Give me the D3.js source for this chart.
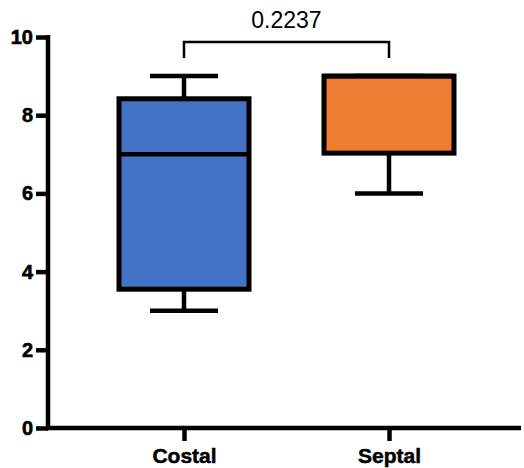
<!DOCTYPE html>
<html>
<head>
<meta charset="utf-8">
<script src="https://cdn.jsdelivr.net/npm/d3@7"></script>
<style>
  body { margin: 0; background: #fff; }
  text { font-family: "Liberation Sans", Arial, sans-serif; }
</style>
</head>
<body>
<script>
// box plot data
var categories = ["Costal", "Septal"];
var mins    = [3, 6];
var q1s     = [3.55, 7.03];
var medians = [7, 9];
var q3s     = [8.42, 9];
var maxs    = [9, 9];
var fills   = ["#4472C4", "#ED7D31"];
var yTicks  = [0, 2, 4, 6, 8, 10];
var pLabel  = "0.2237";

var width = 524,
    height = 468;

var svg = d3.select("body").append("svg")
    .attr("width", width)
    .attr("height", height);

var y = d3.scaleLinear().domain([0, 10]).range([428, 37]);
var x = d3.scalePoint().domain(categories).range([184, 389]);

var boxW = 130, capW = 68;

var boxes = categories.map(function(c, i) {
  return { cat: c, min: mins[i], q1: q1s[i], med: medians[i], q3: q3s[i], max: maxs[i], fill: fills[i] };
});

var g = svg.selectAll(".box").data(boxes).enter().append("g").attr("class", "box");

// whiskers
g.append("line")
    .attr("x1", d => x(d.cat)).attr("x2", d => x(d.cat))
    .attr("y1", d => y(d.max)).attr("y2", d => y(d.min))
    .attr("stroke", "#000").attr("stroke-width", 4.5);

g.append("line")
    .attr("x1", d => x(d.cat) - capW / 2).attr("x2", d => x(d.cat) + capW / 2)
    .attr("y1", d => y(d.max)).attr("y2", d => y(d.max))
    .attr("stroke", "#000").attr("stroke-width", 4.5);

g.append("line")
    .attr("x1", d => x(d.cat) - capW / 2).attr("x2", d => x(d.cat) + capW / 2)
    .attr("y1", d => y(d.min)).attr("y2", d => y(d.min))
    .attr("stroke", "#000").attr("stroke-width", 4.5);

// boxes + medians
g.append("rect")
    .attr("x", d => x(d.cat) - boxW / 2)
    .attr("width", boxW)
    .attr("y", d => y(d.q3))
    .attr("height", d => y(d.q1) - y(d.q3))
    .attr("fill", d => d.fill)
    .attr("stroke", "#000").attr("stroke-width", 5);

g.append("line")
    .attr("x1", d => x(d.cat) - boxW / 2).attr("x2", d => x(d.cat) + boxW / 2)
    .attr("y1", d => y(d.med)).attr("y2", d => y(d.med))
    .attr("stroke", "#000").attr("stroke-width", 4.5);

// y axis
var yAxis = svg.append("g")
    .attr("transform", "translate(48,0)")
    .call(d3.axisLeft(y).tickValues(yTicks).tickSize(12).tickPadding(3).tickSizeOuter(0));
yAxis.select(".domain").remove();
yAxis.selectAll(".tick line").attr("stroke", "#000").attr("stroke-width", 4.5);
yAxis.selectAll(".tick text")
    .attr("fill", "#000")
    .attr("stroke", "#000").attr("stroke-width", 0.6)
    .style("font-size", "20px").style("font-weight", "bold")
    .style("font-family", "'Liberation Sans', Arial, sans-serif");

svg.append("line")
    .attr("x1", 48).attr("x2", 48)
    .attr("y1", y(10) - 2).attr("y2", y(0) + 2)
    .attr("stroke", "#000").attr("stroke-width", 4.5);

// x axis
var xAxis = svg.append("g")
    .attr("transform", "translate(0," + y(0) + ")")
    .call(d3.axisBottom(x).tickSize(13).tickPadding(7));
xAxis.select(".domain").remove();
xAxis.selectAll(".tick line").attr("stroke", "#000").attr("stroke-width", 4.5);
xAxis.selectAll(".tick text")
    .attr("fill", "#000")
    .attr("stroke", "#000").attr("stroke-width", 0.5)
    .style("font-size", "21px").style("font-weight", "bold")
    .style("font-family", "'Liberation Sans', Arial, sans-serif");

svg.append("line")
    .attr("x1", 46).attr("x2", 521)
    .attr("y1", y(0)).attr("y2", y(0))
    .attr("stroke", "#000").attr("stroke-width", 4.5);

// significance bracket
var by = 42;
svg.append("path")
    .attr("d", "M" + x("Costal") + "," + (by + 16) + "V" + by + "H" + x("Septal") + "V" + (by + 16))
    .attr("fill", "none").attr("stroke", "#000").attr("stroke-width", 2.5);

svg.append("text")
    .attr("x", (x("Costal") + x("Septal")) / 2)
    .attr("y", 28)
    .attr("text-anchor", "middle")
    .style("font-size", "23px")
    .text(pLabel);
</script>
</body>
</html>
